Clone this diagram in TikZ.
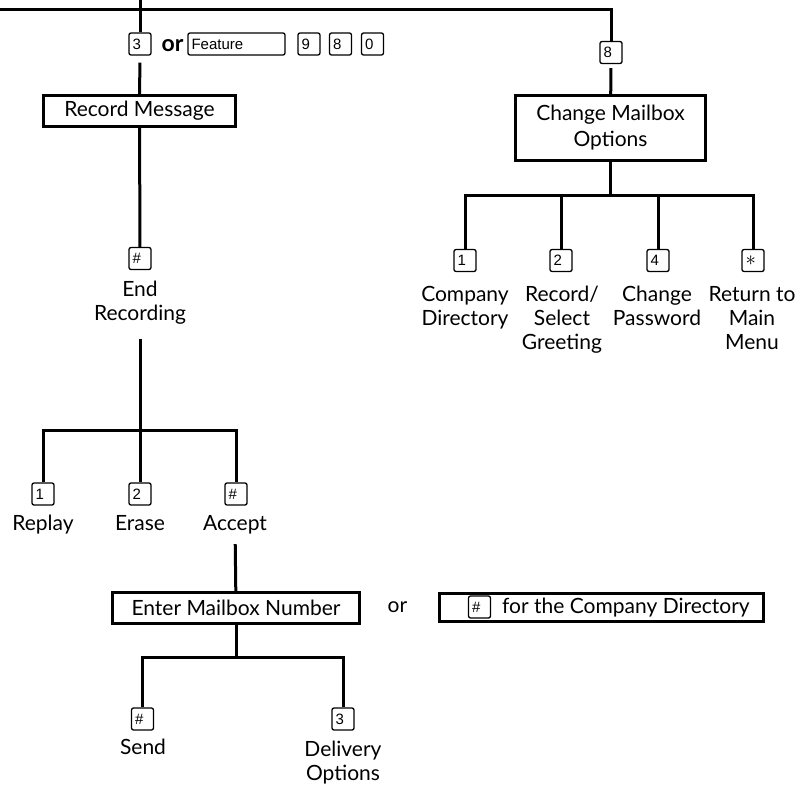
\documentclass[tikz,border=0pt]{standalone}
\usepackage{fontspec}
\setmainfont{Lato}
\newfontfamily\keyfont{Liberation Sans}

\begin{document}
\begin{tikzpicture}[x=1pt,y=-1pt]

      \useasboundingbox (0,0) rectangle (796,787);

      % telephone keys
      \begin{scope}[every node/.style={draw,rounded corners=2pt,line width=1.3pt,
          minimum height=22pt,text width=15pt,inner xsep=3.5pt,inner ysep=0pt,
          align=left,font=\keyfont\fontsize{15}{15}\selectfont}]
        \node (k3)   at (140,44)    {3};
        \node[text width=90pt] (kf) at (236.5,44) {Feature};
        \node (k9)   at (309,44)    {9};
        \node (k8b)  at (340.5,44)  {8};
        \node (k0)   at (372.5,44)  {0};
        \node (k8)   at (611,52.5)  {8};
        \node (kend) at (140,258.5) {\#};
        \node (kr1)  at (43,494)    {1};
        \node (kr2)  at (140,494)   {2};
        \node (kr3)  at (236,494)   {\#};
        \node (kc1)  at (465,260.5) {1};
        \node (kc2)  at (561,260.5) {2};
        \node (kc4)  at (658,260.5) {4};
        \node (kc5)  at (753,260.5) {\fontsize{22}{22}\selectfont$\ast$};
        \node (kcd)  at (479.5,607) {\#};
        \node (ks1)  at (142.5,719) {\#};
        \node (ks2)  at (343,719)   {3};
      \end{scope}

      % menu boxes
      \begin{scope}[every node/.style={draw,line width=3pt,inner sep=0pt,align=center,
          font=\fontsize{21}{26}\selectfont}]
        \node[minimum width=192pt,minimum height=31pt] (rec) at (139.5,111) {Record Message};
        \node[minimum width=190pt,minimum height=65pt] (cmo) at (610.5,128) {Change Mailbox\\Options};
        \node[minimum width=247pt,minimum height=31pt] (emn) at (236,608) {Enter Mailbox Number};
        \node[minimum width=324pt,minimum height=28pt] (cdb) at (601.5,607.5) {};
      \end{scope}

      % labels
      \begin{scope}[every node/.style={align=center,inner sep=0pt,anchor=north,
          font=\fontsize{21}{24}\selectfont}]
        \node (endrec) at (140,281)  {End\\Recording};
        \node (rep)    at (43,515)   {Replay};
        \node (era)    at (140,515)  {Erase};
        \node (acc)    at (235,515)  {Accept};
        \node (cdir)   at (465,286)  {Company\\Directory};
        \node (rsg)    at (562,286)  {Record/\\Select\\Greeting};
        \node (cpw)    at (657,286)  {Change\\Password};
        \node (rmm)    at (752,286)  {Return to\\Main\\Menu};
        \node (snd)    at (143,739)  {Send};
        \node (dlv)    at (343,741)  {Delivery\\Options};
        \node[anchor=center,font=\bfseries\fontsize{23}{23}\selectfont] (or1) at (172.5,46) {or};
        \node[anchor=center] (or2) at (397.5,607.5) {or};
        \node[anchor=west] (cdt) at (502,608) {for the Company Directory};
      \end{scope}

      \coordinate (top)  at (140,0);
      \coordinate (left) at (0,9);
      \coordinate (jr)   at (140,430);
      \coordinate (jc)   at (610.5,195);
      \coordinate (js)   at (236,657);

      \begin{scope}[line width=3pt]
        \draw (top) -- (k3);
        \draw (left) -| (k8);
        \draw[shorten <=7pt] (k3) -- (rec);
        \draw[shorten <=4pt] (k8) -- (cmo);
        \draw (rec) -- (kend);
        \draw[shorten <=14pt] (endrec) -- (jr);
        \draw (kr1) |- (jr) -| (kr3);
        \draw (jr) -- (kr2);
        \draw (cmo) -- (jc);
        \draw (kc1) |- (jc) -| (kc5);
        \draw (kc2) -- (kc2 |- jc);
        \draw (kc4) -- (kc4 |- jc);
        \draw[shorten <=10pt] (acc) -- (emn);
        \draw (emn) -- (js);
        \draw (ks1) |- (js) -| (ks2);
      \end{scope}

    \end{tikzpicture}
\end{document}
